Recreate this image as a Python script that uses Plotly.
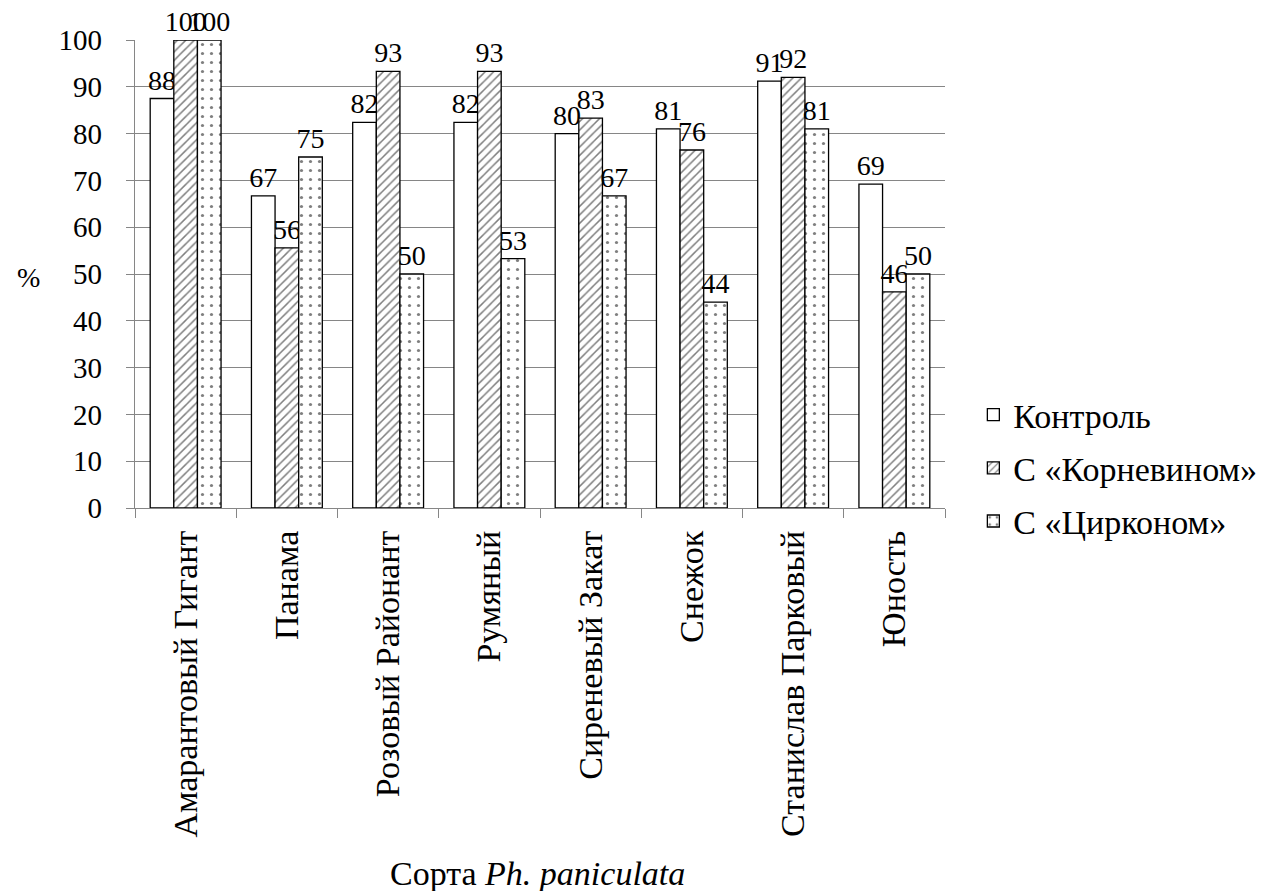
import plotly.graph_objects as go

categories = ["Амарантовый Гигант", "Панама", "Розовый Районант", "Румяный",
              "Сиреневый Закат", "Снежок", "Станислав Парковый", "Юность"]
control = [87.5, 66.7, 82.4, 82.4, 80.0, 81.0, 91.2, 69.2]
kornevin = [100, 55.6, 93.3, 93.3, 83.3, 76.5, 92.0, 46.2]
zirkon = [100, 75.0, 50.0, 53.3, 66.7, 44.0, 81.0, 50.0]
series_names = ["Контроль", "С «Корневином»", "С «Цирконом»"]
yticks = [0, 10, 20, 30, 40, 50, 60, 70, 80, 90, 100]

FONT = "Liberation Serif"
L, R, T, B = 135, 945, 40, 508
fig = go.Figure()
patterns = [dict(shape=""), dict(shape="/", size=6, solidity=0.25, fgcolor="black", bgcolor="white"),
            dict(shape=".", size=9, solidity=0.1, fgcolor="black", bgcolor="white")]
for i, (name, vals, pat) in enumerate(zip(series_names, [control, kornevin, zirkon], patterns)):
    fig.add_trace(go.Bar(
        x=categories, y=vals, name=name, legendgroup=f"g{i}",
        marker=dict(color="white", line=dict(color="black", width=1.3), pattern=pat),
        text=[f"{v:.0f}" for v in vals], textposition="outside", cliponaxis=False,
        constraintext="none",
        textfont=dict(family=FONT, size=28, color="black"),
    ))

fig.update_layout(
    width=1265, height=891, barmode="group", bargap=0.3, bargroupgap=0,
    plot_bgcolor="white", paper_bgcolor="white",
    margin=dict(l=L, r=1265 - R, t=T, b=891 - B, autoexpand=False),
    font=dict(family=FONT, size=28, color="black"),
    legend=dict(x=1.035, y=(B - 386) / (B - T), xanchor="left", yanchor="top",
                font=dict(family=FONT, size=34), traceorder="grouped",
                tracegroupgap=6, itemwidth=30, bgcolor="rgba(0,0,0,0)"),
    xaxis=dict(tickangle=-90, showline=True, linecolor="#868686", linewidth=1.3,
               ticks="outside", tickson="boundaries", ticklen=9, tickcolor="#868686",
               ticklabelstandoff=8, tickfont=dict(family=FONT, size=34)),
    yaxis=dict(range=[0, 100], tickvals=yticks, showgrid=True, gridcolor="#868686", gridwidth=1.3,
               showline=True, linecolor="#868686", linewidth=1.3, ticks="outside", ticklen=8,
               tickcolor="#868686", ticklabelstandoff=18, tickfont=dict(family=FONT, size=29),
               zeroline=False),
)
fig.add_annotation(text="%", xref="paper", yref="paper", x=(28 - L) / (R - L), y=(B - 277) / (B - T),
                   xanchor="center", yanchor="middle", showarrow=False, font=dict(family=FONT, size=28))
fig.add_annotation(text="Сорта <i>Ph. paniculata</i>", xref="paper", yref="paper",
                   x=(537 - L) / (R - L), y=-(873 - B) / (B - T),
                   xanchor="center", yanchor="middle", showarrow=False, font=dict(family=FONT, size=34))
fig.write_html("out.html")
